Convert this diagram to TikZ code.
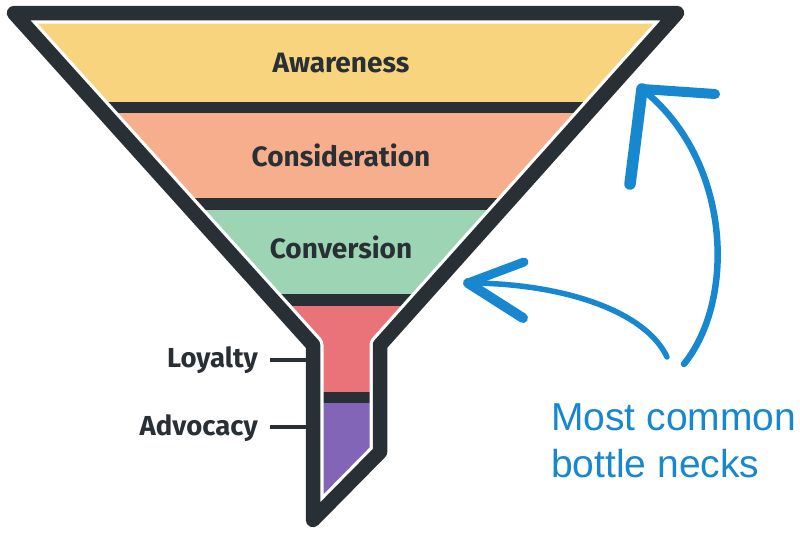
\documentclass[tikz,border=0pt]{standalone}
\usepackage{fontspec}
\newfontfamily\labelfont{Fira Sans}
\newfontfamily\notefont{Liberation Sans}
\definecolor{ink}{HTML}{283035}
\definecolor{cyel}{HTML}{F9D47F}
\definecolor{csal}{HTML}{F7AE8C}
\definecolor{cgrn}{HTML}{9DD4B3}
\definecolor{cpnk}{HTML}{E97379}
\definecolor{cpur}{HTML}{8265B6}
\definecolor{cblue}{HTML}{1787D0}
\tikzset{
  stage/.style={font=\labelfont\bfseries\fontsize{28}{33}\selectfont, text=ink, inner sep=0pt, anchor=base},
  sidelabel/.style={font=\labelfont\bfseries\fontsize{27.5}{32}\selectfont, text=ink, inner sep=0pt, anchor=base east},
  tick/.style={draw=ink, line width=4.5pt},
  note/.style={font=\notefont\fontsize{39}{46}\selectfont, text=cblue, inner sep=0pt, anchor=base west},
  shaft/.style={draw=cblue, line width=6.5pt, line cap=round},
  barb/.style={draw=cblue, line width=10pt, line cap=round},
}
\begin{document}
\begin{tikzpicture}[x=1pt,y=-1pt]
\useasboundingbox (0,0) rectangle (800,541);
% funnel outline corners
\coordinate (tl) at (14,13);
\coordinate (tr) at (677,13);
\coordinate (nr) at (380,345);
\coordinate (br) at (380,452);
\coordinate (bl) at (313,520);
\coordinate (nl) at (313,345);
\begin{scope}
  \clip (tl) -- (tr) -- (nr) -- (br) -- (bl) -- (nl) -- cycle;
  \fill[cyel] (0,0) rectangle (800,102);
  \fill[ink]  (0,102) rectangle (800,113);
  \fill[csal] (0,113) rectangle (800,198);
  \fill[ink]  (0,198) rectangle (800,210);
  \fill[cgrn] (0,210) rectangle (800,294);
  \fill[ink]  (0,294) rectangle (800,306);
  \fill[cpnk] (0,306) rectangle (800,392);
  \fill[ink]  (0,392) rectangle (800,403);
  \fill[cpur] (0,403) rectangle (800,541);
\end{scope}
\draw[white, line width=21pt, line join=round] (tl) -- (tr) -- (nr) -- (br) -- (bl) -- (nl) -- cycle;
\draw[ink, line width=14.5pt, line join=round] (tl) -- (tr) -- (nr) -- (br) -- (bl) -- (nl) -- cycle;
% stage labels
\node[stage] (aw) at (341,72) {Awareness};
\node[stage] (co) at (341,166) {Consideration};
\node[stage] (cv) at (341,258) {Conversion};
% side labels
\node[sidelabel] (loy) at (258,367) {Loyalty};
\node[sidelabel] (adv) at (258,435) {Advocacy};
\coordinate (loyA) at (270,360);
\coordinate (loyB) at (306,360);
\coordinate (advA) at (270,427);
\coordinate (advB) at (306,427);
\draw[tick] (loyA) -- (loyB);
\draw[tick] (advA) -- (advB);
% note
\node[note] (n1) at (551,430) {Most common};
\node[note] (n2) at (551,477) {bottle necks};
% long arrow
\coordinate (la0) at (684,364);
\coordinate (la1) at (642,89);
\coordinate (laR) at (715,94);
\coordinate (laD) at (630,184);
\draw[shaft] (la0) .. controls (736,300) and (732,160) .. (la1);
\draw[barb] (la1) -- (laR);
\draw[barb, line width=11.5pt] (la1) -- (laD);
% short arrow
\coordinate (sa0) at (667,357);
\coordinate (sa1) at (468,283);
\coordinate (saU) at (524,262);
\coordinate (saD) at (523,318);
\draw[shaft, line width=5.5pt] (sa0) .. controls (645,310) and (560,283) .. (sa1);
\draw[barb, line width=9pt] (sa1) -- (saU);
\draw[barb, line width=10pt] (sa1) -- (saD);
\end{tikzpicture}
\end{document}
